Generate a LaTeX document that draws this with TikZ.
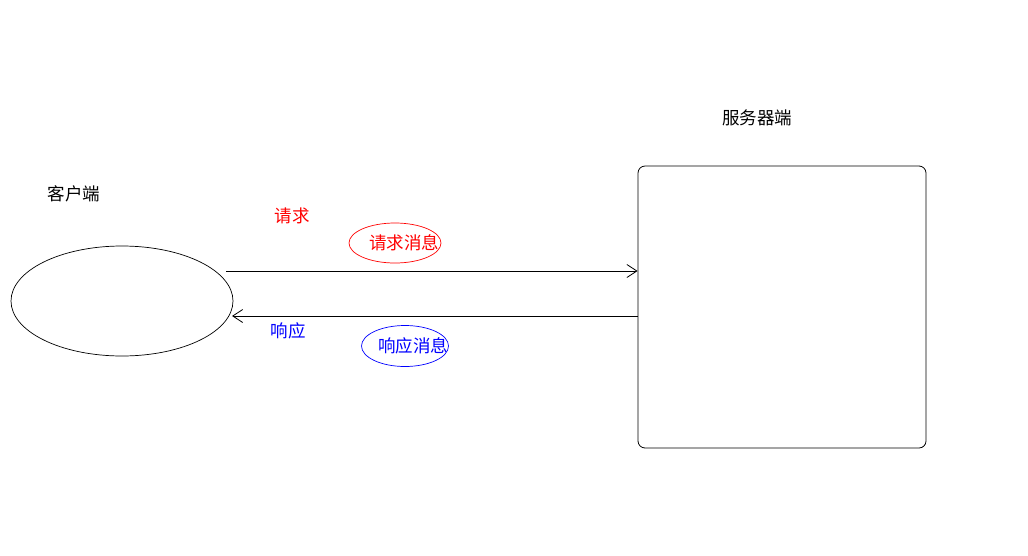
\documentclass[tikz,border=0pt]{standalone}
\usepackage{fontspec}
\setmainfont{Noto Sans CJK SC}
\usetikzlibrary{arrows.meta,positioning,shapes.geometric}

\begin{document}
\begin{tikzpicture}[
    x=1pt, y=-1pt,
    every node/.style={font=\fontsize{17.5}{20}\selectfont, inner sep=0pt},
    box/.style={draw, line width=0.8pt, rounded corners=7pt, minimum width=288pt, minimum height=282pt},
    client/.style={draw, ellipse, line width=0.7pt, minimum width=222pt, minimum height=110pt},
    bubble/.style={draw, ellipse, line width=0.7pt},
    arrow/.style={-{Straight Barb[length=10pt, width=13pt]}, line width=0.8pt}
  ]
    \useasboundingbox (0,0) rectangle (1028,555);
    \node[client] (cli) at (122,301) {};
    \node (clilabel) at (74,194) {客户端};
    \node[box] (srv) at (782,307) {};
    \node (srvlabel) at (757,118) {服务器端};
    \node[text=red] (reqlabel) at (292,216) {请求};
    \node[bubble, red, minimum width=92pt, minimum height=40pt] (reqmsg) at (395,243) {};
    \node[text=red] (reqtext) at (404,243) {请求消息};
    \node[text=blue] (resplabel) at (288,331) {响应};
    \node[bubble, blue, minimum width=87pt, minimum height=41pt] (respmsg) at (405,346) {};
    \node[text=blue] (resptext) at (413,346) {响应消息};
    \coordinate (reqstart) at (226,271);
    \coordinate (respend) at (232,316);
    \draw[arrow] (reqstart) -- (srv.west |- reqstart);
    \draw[arrow] (srv.west |- respend) -- (respend);
  \end{tikzpicture}
\end{document}
